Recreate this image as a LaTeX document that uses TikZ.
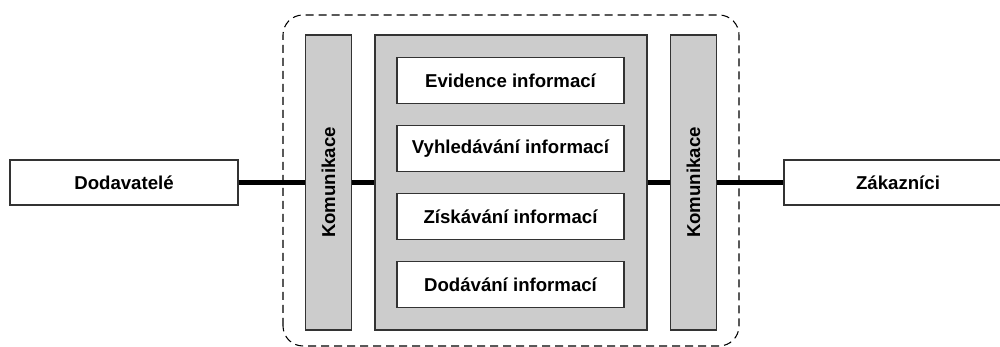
\documentclass[tikz,border=0pt]{standalone}
\usepackage{fontspec}
\setmainfont{Liberation Sans}
\usepackage{tikz}
\usetikzlibrary{positioning,calc}

\definecolor{boxgray}{HTML}{CCCCCC}
\definecolor{edgegray}{HTML}{333333}

\begin{document}
\begin{tikzpicture}[
            party/.style={rectangle, draw=edgegray, fill=white, line width=0.7pt, minimum width=4.56cm, minimum height=0.9cm, font=\bfseries\fontsize{10.6}{12}\selectfont},
            comm/.style={rectangle, draw=edgegray, fill=boxgray, line width=0.7pt, minimum width=5.9cm, minimum height=0.92cm, rotate=90, font=\bfseries\fontsize{10.6}{12}\selectfont},
            core/.style={rectangle, draw=edgegray, fill=boxgray, line width=0.7pt, minimum width=5.44cm, minimum height=5.9cm},
            task/.style={rectangle, draw=edgegray, fill=white, line width=0.7pt, minimum width=4.54cm, minimum height=0.92cm, font=\bfseries\fontsize{10.6}{12}\selectfont},
            link/.style={line width=2.3pt, black},
            frame/.style={draw=black, line width=0.6pt, dash pattern=on 0.16cm off 0.1cm, rounded corners=0.4cm}
        ]
            \useasboundingbox (0,0) rectangle (20,6.94);
            \draw[frame] (5.66,0.02) rectangle (14.78,6.64);
            \node[party] (dod) at (2.48,3.29) {Dodavatelé};
            \node[party] (zak) at (17.96,3.29) {Zákazníci};
            \node[comm] (kl) at (6.57,3.29) {Komunikace};
            \node[comm] (kr) at (13.87,3.29) {Komunikace};
            \node[core] (sys) at (10.22,3.29) {};
            \foreach \y/\name/\lab in {5.33/t1/Evidence informací,3.97/t2/Vyhledávání informací,2.61/t3/Získávání informací,1.25/t4/Dodávání informací} {
                \node[task] (\name) at (10.21,\y) {\lab};
            }
            \draw[link] (dod) -- (kl);
            \draw[link] (kl) -- (sys);
            \draw[link] (sys) -- (kr);
            \draw[link] (kr) -- (zak);
        \end{tikzpicture}
\end{document}
